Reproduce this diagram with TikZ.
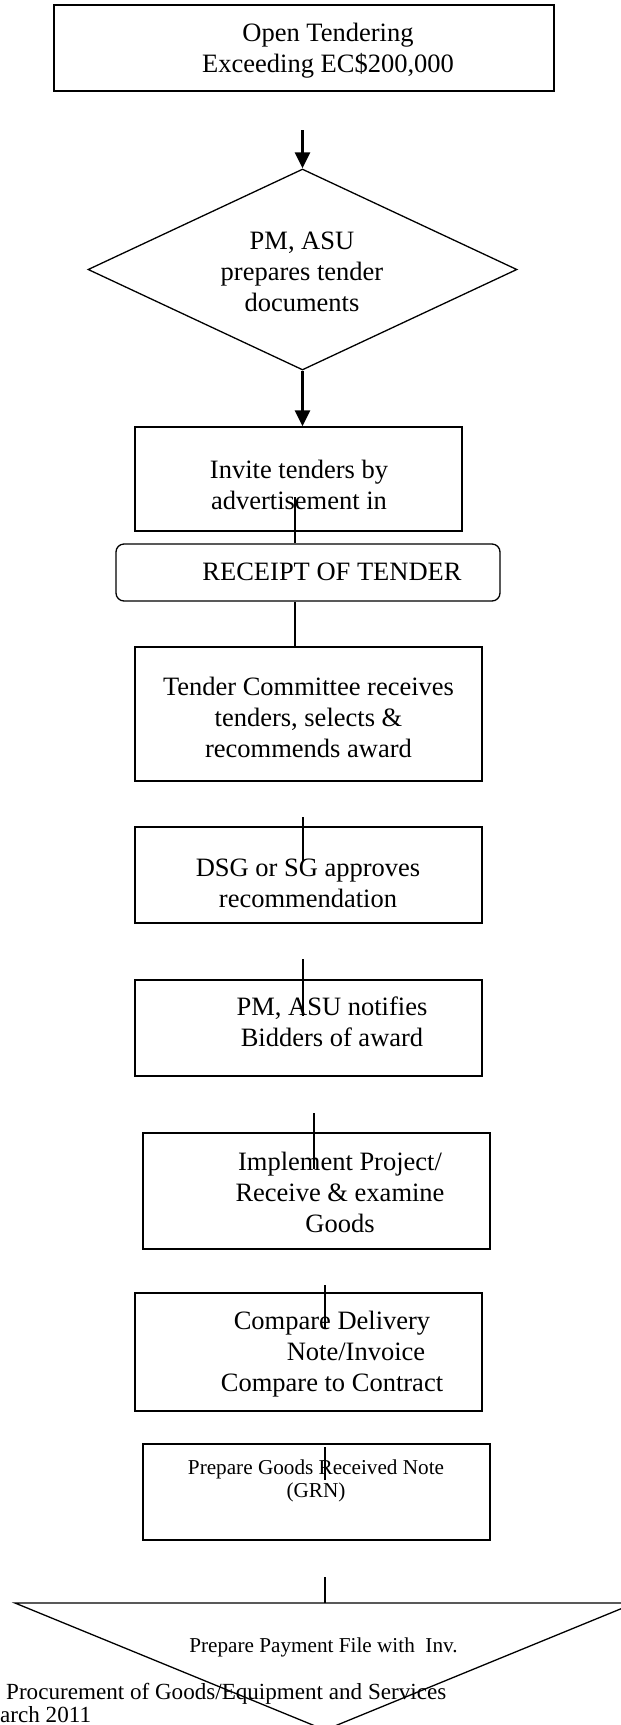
\documentclass[tikz,border=0pt]{standalone}
\usepackage{fontspec}
\setmainfont{Liberation Serif}
\usetikzlibrary{arrows.meta, positioning, shapes.geometric}

\begin{document}
\begin{tikzpicture}[
    x=1pt, y=-1pt,
    flowbox/.style={draw, line width=1.3pt, inner sep=0pt},
    stepbox/.style={flowbox, minimum width=347pt},
    flowtext/.style={anchor=north, align=center, inner sep=0pt,
                 font=\fontsize{26.5}{31}\selectfont},
    notetext/.style={flowtext, font=\fontsize{21.2}{23.5}\selectfont},
    pagefoot/.style={anchor=base west, inner sep=0pt,
                 font=\fontsize{23.1}{25}\selectfont},
    link/.style={line width=1.4pt},
    arrow/.style={-{Triangle[length=16pt, width=15pt]}, line width=2.6pt},
  ]
    \useasboundingbox (0,0) rectangle (621,1725);

    % Open tendering
    \node[flowbox, minimum width=500pt, minimum height=86pt] (open) at (304,48) {};
    \node[flowtext] (open-txt) at (328,23) {Open Tendering\\Exceeding EC\$200,000};

    % Tender documents
    \node[flowbox, diamond, minimum width=429pt, minimum height=201pt]
      (prep) at (302.5,269.5) {};
    \node[flowtext] (prep-txt) at (302,232) {PM, ASU\\prepares tender\\documents};

    % Advertisement
    \node[flowbox, minimum width=327pt, minimum height=104pt] (invite) at (298.5,479) {};
    \node[flowtext] (invite-txt) at (299,460) {Invite tenders by\\advertisement in};

    % Receipt of tender
    \node[flowbox, rounded corners=8pt, minimum width=384pt, minimum height=57pt]
      (receipt) at (308,572.5) {};
    \node[flowtext] (receipt-txt) at (332,563) {RECEIPT OF TENDER};

    % Tender committee
    \node[stepbox, minimum height=134pt] (committee) at (308.5,714) {};
    \node[flowtext] (committee-txt) at (308.5,677)
      {Tender Committee receives\\tenders, selects \&\\recommends award};

    % Approval
    \node[stepbox, minimum height=96pt] (approve) at (308.5,875) {};
    \node[flowtext] (approve-txt) at (308,859) {DSG or SG approves\\recommendation};

    % Notify bidders
    \node[stepbox, minimum height=96pt] (notify) at (308.5,1028) {};
    \node[flowtext] (notify-txt) at (332,997) {PM, ASU notifies\\Bidders of award};

    % Implementation
    \node[stepbox, minimum height=116pt] (implement) at (316.5,1191) {};
    \node[flowtext] (implement-txt) at (340,1152)
      {Implement Project/\\Receive \& examine\\Goods};

    % Compare documents
    \node[stepbox, minimum height=118pt] (compare) at (308.5,1352) {};
    \node[flowtext] (compare-txt) at (332,1311)
      {Compare Delivery\\\hspace*{48pt}Note/Invoice\\Compare to Contract};

    % Goods received note
    \node[stepbox, minimum height=96pt] (grn) at (316.5,1492) {};
    \node[notetext] (grn-txt) at (316,1459.5) {Prepare Goods Received Note\\(GRN)};

    % Payment file
    \coordinate (pay-l) at (15,1603);
    \coordinate (pay-r) at (635,1603);
    \coordinate (pay-v) at (325,1730);
    \draw[flowbox] (pay-l) -- (pay-r) -- (pay-v) -- cycle;
    \node[notetext] (pay) at (323.5,1637.5) {Prepare Payment File with~ Inv.};

    % Page footer
    \node[pagefoot] (foot-title) at (6,1699) {Procurement of Goods/Equipment and Services};
    \node[pagefoot] (foot-date) at (0,1722) {arch 2011};

    % Connectors
    \coordinate (start) at (302.5,130);
    \draw[arrow] (start) -- (prep.north);
    \draw[arrow] (prep.south) -- (prep.south |- invite.north);

    \coordinate (invite-in) at (295,497);
    \draw[link] (invite-in) -- (invite-in |- receipt.north);
    \draw[link] (receipt.south -| invite-in) -- (committee.north -| invite-in);

    \coordinate (approve-a) at (303,817);
    \coordinate (approve-b) at (303,861);
    \draw[link] (approve-a) -- (approve-b);

    \coordinate (notify-a) at (303,959);
    \coordinate (notify-b) at (303,1016);
    \draw[link] (notify-a) -- (notify-b);

    \coordinate (implement-a) at (314,1113);
    \coordinate (implement-b) at (314,1169);
    \draw[link] (implement-a) -- (implement-b);

    \coordinate (compare-a) at (325,1285);
    \coordinate (compare-b) at (325,1328);
    \draw[link] (compare-a) -- (compare-b);

    \coordinate (grn-a) at (325,1447);
    \coordinate (grn-b) at (325,1480);
    \draw[link] (grn-a) -- (grn-b);

    \coordinate (pay-in) at (325,1577);
    \draw[link] (pay-in) -- (pay-in |- pay-l);
  \end{tikzpicture}
\end{document}
